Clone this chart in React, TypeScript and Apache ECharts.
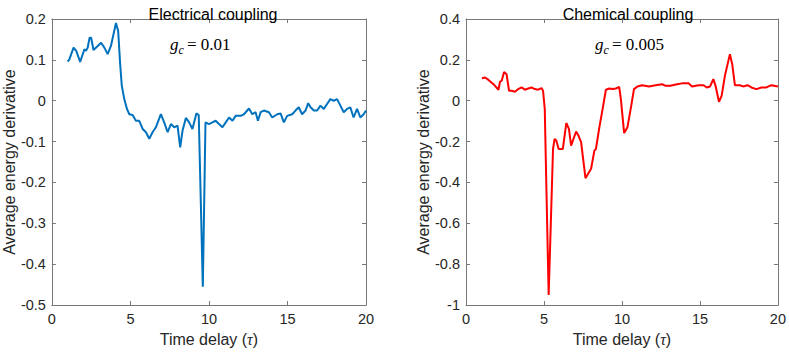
import React, { useEffect, useRef } from "react";
import * as echarts from "echarts";

const elecT = [1.0, 1.1, 1.38, 1.55, 1.8, 2.07, 2.17, 2.28, 2.4, 2.5, 2.65, 2.92, 3.13, 3.34, 3.55, 3.76, 4.08, 4.22, 4.34, 4.45, 4.61, 4.78, 4.93, 5.14, 5.35, 5.56, 5.78, 5.99, 6.2, 6.41, 6.62, 6.94, 7.15, 7.37, 7.58, 7.79, 8.0, 8.17, 8.32, 8.53, 8.74, 8.95, 9.2, 9.35, 9.61, 9.78, 10.0, 10.22, 10.43, 10.64, 10.86, 11.07, 11.28, 11.5, 11.7, 12.02, 12.23, 12.55, 12.76, 12.97, 13.12, 13.29, 13.5, 13.82, 14.03, 14.35, 14.56, 14.77, 14.98, 15.3, 15.51, 15.72, 15.93, 16.15, 16.32, 16.47, 16.68, 16.89, 17.1, 17.31, 17.52, 17.73, 17.94, 18.16, 18.37, 18.58, 18.79, 19.0, 19.21, 19.43, 19.64, 19.85, 20.0];
const elecV = [0.096, 0.1, 0.13, 0.122, 0.095, 0.126, 0.122, 0.13, 0.154, 0.154, 0.124, 0.134, 0.142, 0.13, 0.114, 0.134, 0.19, 0.171, 0.094, 0.037, 0.004, -0.02, -0.033, -0.035, -0.049, -0.049, -0.069, -0.077, -0.093, -0.077, -0.065, -0.033, -0.053, -0.077, -0.057, -0.065, -0.061, -0.114, -0.073, -0.042, -0.053, -0.069, -0.031, -0.035, -0.455, -0.053, -0.057, -0.053, -0.049, -0.057, -0.065, -0.053, -0.041, -0.049, -0.037, -0.037, -0.033, -0.019, -0.033, -0.028, -0.049, -0.028, -0.024, -0.028, -0.041, -0.033, -0.031, -0.053, -0.037, -0.033, -0.024, -0.016, -0.033, -0.024, -0.006, -0.016, -0.024, -0.024, -0.012, -0.02, -0.008, 0.004, 0.0, 0.004, -0.012, -0.028, -0.02, -0.016, -0.041, -0.02, -0.041, -0.033, -0.024];

const chemT = [1.02, 1.23, 1.44, 1.76, 2.08, 2.18, 2.29, 2.44, 2.6, 2.76, 2.93, 3.14, 3.35, 3.56, 3.78, 3.99, 4.2, 4.41, 4.62, 4.84, 4.94, 5.05, 5.12, 5.3, 5.58, 5.68, 5.79, 5.94, 6.21, 6.43, 6.6, 6.74, 6.89, 7.06, 7.23, 7.38, 7.66, 8.02, 8.23, 8.33, 8.55, 8.76, 8.97, 9.19, 9.4, 9.61, 9.82, 9.93, 10.14, 10.35, 10.56, 10.77, 10.99, 11.3, 11.73, 12.15, 12.58, 12.79, 13.1, 13.53, 13.85, 14.27, 14.49, 14.91, 15.23, 15.44, 15.65, 15.86, 16.0, 16.22, 16.39, 16.6, 16.92, 17.07, 17.24, 17.56, 17.77, 18.05, 18.3, 18.62, 18.94, 19.26, 19.58, 20.0];
const chemV = [0.11, 0.114, 0.102, 0.081, 0.054, 0.093, 0.098, 0.141, 0.13, 0.049, 0.049, 0.044, 0.057, 0.065, 0.054, 0.06, 0.065, 0.057, 0.054, 0.062, 0.049, -0.04, -0.3, -0.951, -0.236, -0.187, -0.195, -0.236, -0.236, -0.109, -0.138, -0.22, -0.187, -0.151, -0.174, -0.203, -0.379, -0.333, -0.244, -0.236, -0.13, -0.04, 0.054, 0.06, 0.057, 0.06, 0.068, 0.008, -0.158, -0.13, -0.04, 0.057, 0.07, 0.076, 0.07, 0.076, 0.081, 0.073, 0.073, 0.081, 0.085, 0.086, 0.07, 0.076, 0.076, 0.065, 0.07, 0.106, 0.073, -0.005, 0.024, 0.122, 0.228, 0.179, 0.076, 0.076, 0.07, 0.076, 0.065, 0.057, 0.065, 0.065, 0.076, 0.07];

const titles = ["Electrical coupling", "Chemical coupling"];
const gcValues = ["0.01", "0.005"];
const xName = "Time delay (";
const yName = "Average energy derivative";

const AXIS = "#777777";
const LABEL = "#262626";
const SANS = "'Liberation Sans', Arial, Helvetica, sans-serif";
const SERIF = "'Liberation Serif', 'DejaVu Serif', serif";

function zip(t: number[], v: number[]) {
  return t.map((x, i) => [x, v[i]]);
}

export default function App() {
  const ref = useRef<HTMLDivElement>(null);
  useEffect(() => {
    if (!ref.current) return;
    const chart = echarts.init(ref.current, undefined, { renderer: "svg" });
    const grids = [
      { left: 51, top: 19, width: 315, height: 289 },
      { left: 466, top: 19, width: 314, height: 289 },
    ];
    const yCfg = [
      { min: -0.5, max: 0.2, interval: 0.1 },
      { min: -1, max: 0.4, interval: 0.2 },
    ];
    const xAxes: any[] = [];
    const yAxes: any[] = [];
    [0, 1].forEach((g) => {
      xAxes.push({
        gridIndex: g, type: "value", min: 0, max: 20, interval: 5, position: "bottom",
        axisLine: { show: true, onZero: false, lineStyle: { color: AXIS, width: 1 } },
        axisTick: { show: true, inside: true, length: 4, lineStyle: { color: AXIS } },
        axisLabel: { color: LABEL, fontSize: 14.5, fontFamily: SANS, margin: 6 },
        splitLine: { show: false },
        name: "{a|" + xName + "}{t|τ}{a|)}",
        nameLocation: "middle", nameGap: 25,
        nameTextStyle: {
          rich: {
            a: { fontSize: 16, fontFamily: SANS, color: LABEL },
            t: { fontSize: 16, fontFamily: SERIF, fontStyle: "italic", color: LABEL },
          },
        },
      });
      xAxes.push({
        gridIndex: g, type: "value", min: 0, max: 20, interval: 5, position: "top",
        axisLine: { show: true, onZero: false, lineStyle: { color: AXIS, width: 1 } },
        axisTick: { show: true, inside: true, length: 4, lineStyle: { color: AXIS } },
        axisLabel: { show: false }, splitLine: { show: false },
      });
      yAxes.push({
        gridIndex: g, type: "value", ...yCfg[g], position: "left",
        axisLine: { show: true, onZero: false, lineStyle: { color: AXIS, width: 1 } },
        axisTick: { show: true, inside: true, length: 4, lineStyle: { color: AXIS } },
        axisLabel: { color: LABEL, fontSize: 14.5, fontFamily: SANS, margin: 6 },
        splitLine: { show: false },
        name: yName, nameLocation: "middle", nameGap: 33,
        nameTextStyle: { fontSize: 16, fontFamily: SANS, color: LABEL },
      });
      yAxes.push({
        gridIndex: g, type: "value", ...yCfg[g], position: "right",
        axisLine: { show: true, onZero: false, lineStyle: { color: AXIS, width: 1 } },
        axisTick: { show: true, inside: true, length: 4, lineStyle: { color: AXIS } },
        axisLabel: { show: false }, splitLine: { show: false },
      });
    });

    const annot = (cx: number, val: string) => ({
      type: "group",
      children: [
        { type: "text", x: cx - 36, y: 36, style: { text: "g", font: `italic 17px ${SERIF}`, fill: "#000" } },
        { type: "text", x: cx - 27.5, y: 44, style: { text: "c", font: `italic 12px ${SERIF}`, fill: "#000" } },
        { type: "text", x: cx - 19, y: 36, style: { text: "= " + val, font: `17px ${SERIF}`, fill: "#000" } },
      ],
    });

    chart.setOption({
      animation: false,
      title: [
        { text: titles[0], left: 208, top: 1, textAlign: "center", textStyle: { fontSize: 16, fontWeight: "normal", fontFamily: SANS, color: "#000" } },
        { text: titles[1], left: 623, top: 1, textAlign: "center", textStyle: { fontSize: 16, fontWeight: "normal", fontFamily: SANS, color: "#000" } },
      ],
      grid: grids,
      xAxis: xAxes,
      yAxis: yAxes,
      graphic: [annot(206, gcValues[0]), annot(631, gcValues[1])],
      series: [
        {
          type: "line", xAxisIndex: 0, yAxisIndex: 0, data: zip(elecT, elecV), showSymbol: false,
          lineStyle: { color: "#0072BD", width: 2 }, itemStyle: { color: "#0072BD" },
        },
        {
          type: "line", xAxisIndex: 2, yAxisIndex: 2, data: zip(chemT, chemV), showSymbol: false,
          lineStyle: { color: "#FF0000", width: 2 }, itemStyle: { color: "#FF0000" },
        },
      ],
    });
    return () => chart.dispose();
  }, []);
  return (
    <div
      ref={ref}
      style={{ position: "fixed", left: 0, top: 0, width: 789, height: 352, background: "#fff" }}
    />
  );
}
